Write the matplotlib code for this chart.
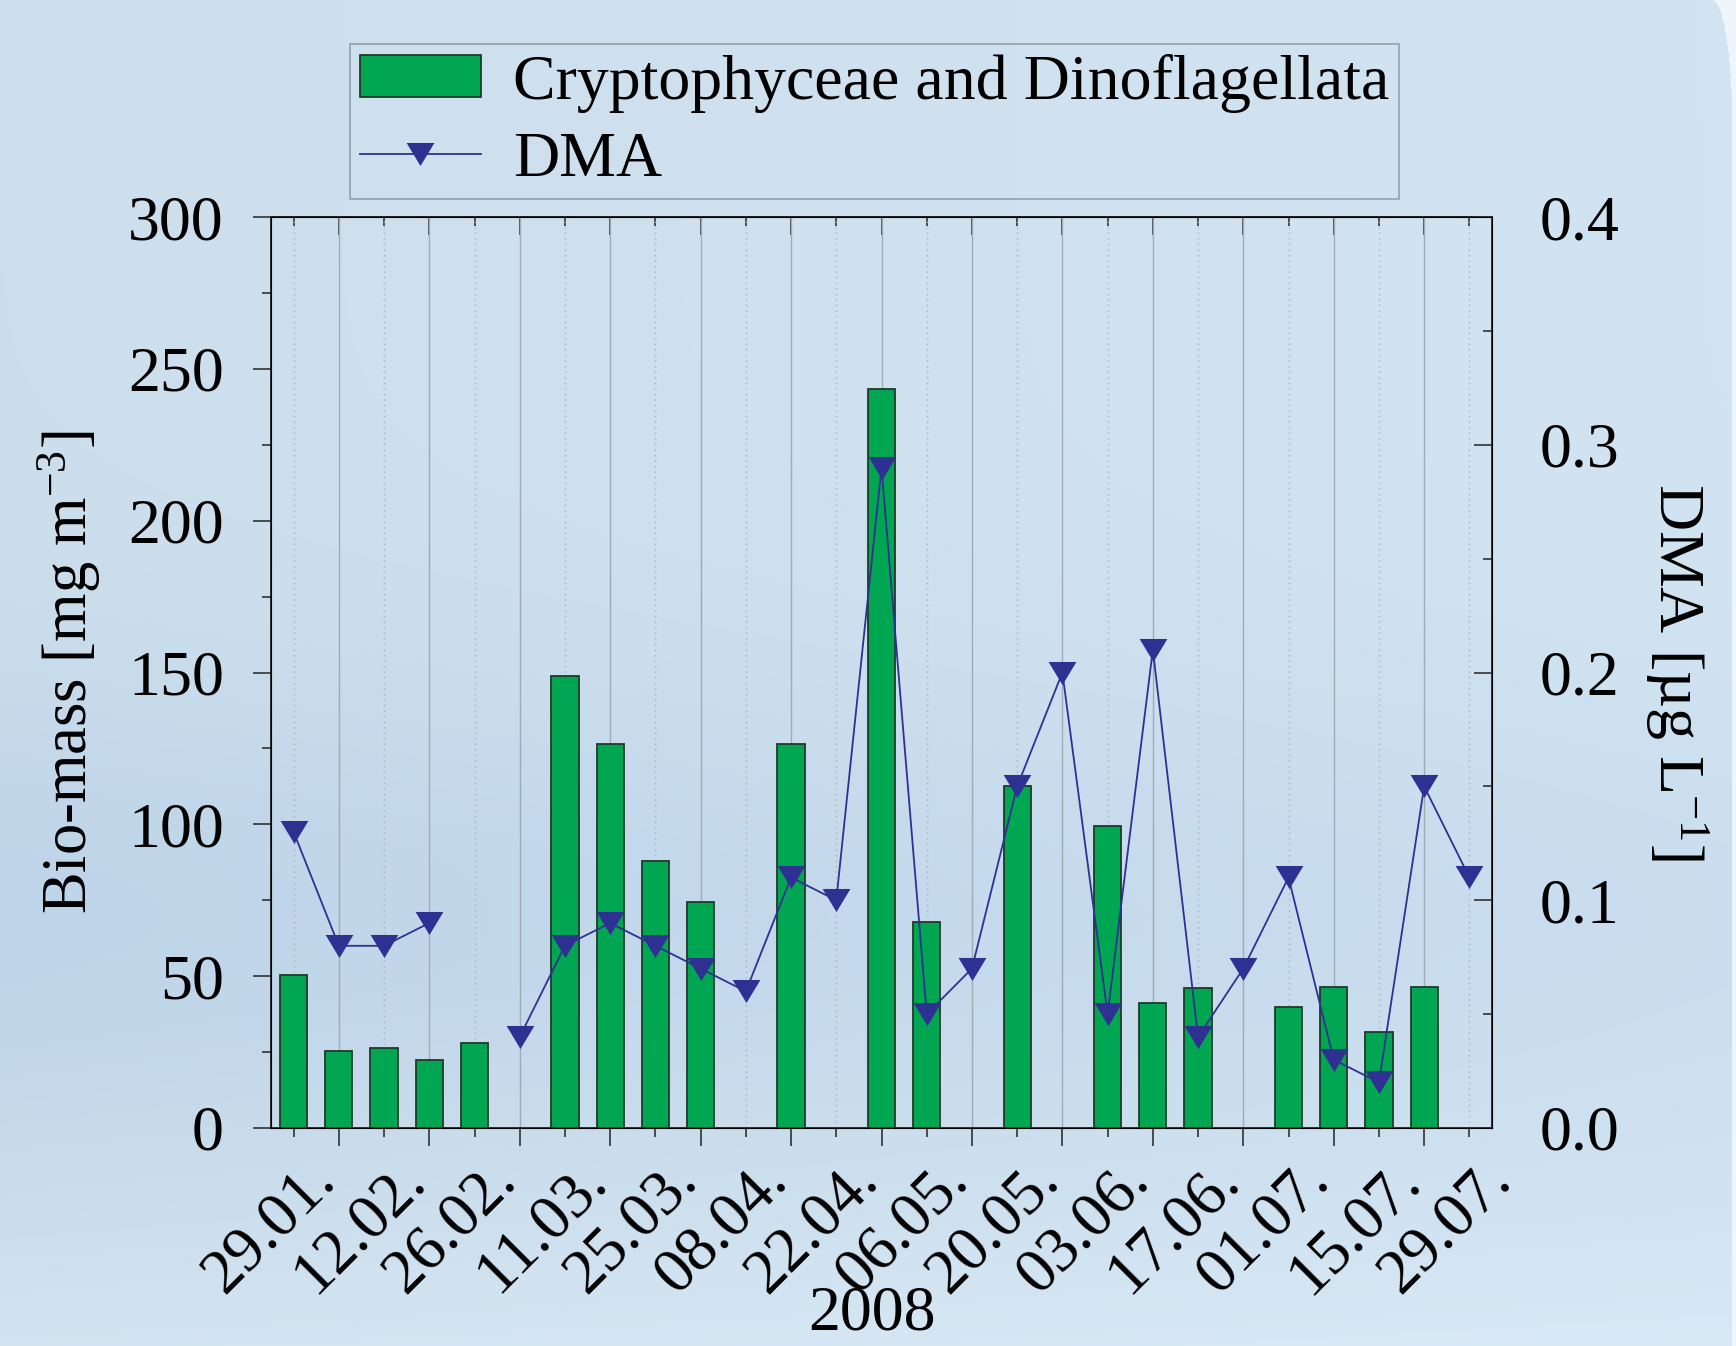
import numpy as np
import matplotlib
matplotlib.use('Agg')
import matplotlib.pyplot as plt
from matplotlib.ticker import FixedLocator, MultipleLocator, FormatStrFormatter
from matplotlib.transforms import ScaledTranslation
from matplotlib.patches import Patch
from matplotlib.lines import Line2D

plt.rcParams['font.family'] = ['Liberation Serif', 'DejaVu Serif']
plt.rcParams['mathtext.fontset'] = 'custom'
plt.rcParams['mathtext.rm'] = 'Liberation Serif'
plt.rcParams['mathtext.it'] = 'Liberation Serif:italic'

# weekly sampling dates, 2008
dates = ['29.01.', '05.02.', '12.02.', '19.02.', '26.02.', '04.03.', '11.03.',
         '18.03.', '25.03.', '01.04.', '08.04.', '15.04.', '22.04.', '29.04.',
         '06.05.', '13.05.', '20.05.', '27.05.', '03.06.', '10.06.', '17.06.',
         '24.06.', '01.07.', '08.07.', '15.07.', '22.07.', '29.07.']
nan = np.nan
# Cryptophyceae and Dinoflagellata bio-mass [mg m-3]
biomass = [50.5, 25.5, 26.5, 22.5, 28, nan, 149, 126.5, 88, 74.5, nan, 126.5,
           nan, 243.5, 68, nan, 112.5, nan, 99.5, 41, 46, nan, 40, 46.5,
           31.5, 46.5, nan]
# DMA [ug L-1]
dma = [0.13, 0.08, 0.08, 0.09, nan, 0.04, 0.08, 0.09, 0.08, 0.07, 0.06, 0.11,
       0.10, 0.29, 0.05, 0.07, 0.15, 0.20, 0.05, 0.21, 0.04, 0.07, 0.11, 0.03,
       0.02, 0.15, 0.11]

W, H = 1736, 1346
fig = plt.figure(figsize=(W / 100, H / 100), dpi=100)

# poster-like light blue background
yy, xx = np.mgrid[0:H, 0:W] / np.array([H, W])[:, None, None]
top = np.array([205, 223, 236]) / 255
mid = np.array([190, 212, 232]) / 255
bot = np.array([212, 228, 241]) / 255
wmid = np.exp(-((yy - 0.68) / 0.18) ** 2) * (1 - 0.5 * xx)
wbot = np.clip((yy - 0.8) / 0.2, 0, 1) ** 2
bg = top[None, None, :] * (1 - wmid - wbot)[..., None] \
    + mid[None, None, :] * wmid[..., None] + bot[None, None, :] * wbot[..., None]
bg = bg + (0.02 * xx)[..., None]
px = np.arange(W)[None, :]
py = np.arange(H)[:, None]
edge = 1732
rx, ry = 20, 130
outside = (px >= edge) | ((px > edge - rx) & (py < ry) &
                          (((px - (edge - rx)) / rx) ** 2 + ((py - ry) / ry) ** 2 > 1))
bg[outside] = np.array([238, 245, 251]) / 255
bg = np.clip(bg, 0, 1)
bgax = fig.add_axes([0, 0, 1, 1], zorder=-10)
bgax.imshow(bg, aspect='auto', extent=(0, 1, 0, 1))
bgax.axis('off')

ax = fig.add_axes([271 / W, 1 - 1128 / H, (1492 - 271) / W, (1128 - 217) / H])
ax.set_facecolor('none')
x = np.arange(len(dates))
bm = np.array(biomass)
ok = ~np.isnan(bm)
ax.bar(x[ok], bm[ok], width=0.6, color='#00a651', edgecolor='#1f3a2a',
       linewidth=1.3, zorder=3)
ax.set_xlim(-0.5, len(dates) - 0.5)
ax.set_ylim(0, 300)
ax.xaxis.set_major_locator(FixedLocator(x[::2]))
ax.xaxis.set_minor_locator(FixedLocator(x[1::2]))
ax.set_xticklabels(dates[::2], rotation=45, ha='right', va='top',
                   rotation_mode='anchor')
ax.yaxis.set_major_locator(MultipleLocator(50))
ax.yaxis.set_minor_locator(MultipleLocator(25))
ax.grid(axis='x', which='major', color='#a9b2ba', linestyle=(0, (1, 3)), lw=1)
ax.grid(axis='x', which='minor', color='#a2abb3', linestyle='-', lw=1)
ax.tick_params(axis='x', which='major', direction='out', length=6.5, width=1.2,
               labelsize=46, pad=0, color='#333333')
ax.tick_params(axis='x', which='minor', direction='out', length=13, width=1.2,
               color='#333333')
ax.tick_params(axis='y', which='major', direction='out', length=13, width=1.2,
               labelsize=46, pad=21, color='#333333')
ax.tick_params(axis='y', which='minor', direction='out', length=6.5, width=1.2,
               color='#333333')
for s in ax.spines.values():
    s.set_linewidth(1.3)
    s.set_color('#222222')
ax.set_ylabel('Bio-mass [mg m$^{\\mathregular{-3}}$]', fontsize=45, va='center')
ax.yaxis.set_label_coords(-0.165, 0.5)

# top axis ticks pointing inward
sec = ax.secondary_xaxis('top')
sec.xaxis.set_major_locator(FixedLocator(x[::2]))
sec.xaxis.set_minor_locator(FixedLocator(x[1::2]))
sec.tick_params(which='major', direction='in', length=6.5, width=1.2,
                labeltop=False, color='#333333')
sec.tick_params(which='minor', direction='in', length=13, width=1.2,
                color='#333333')
sec.spines['top'].set_linewidth(1.3)

# slightly flattened down-pointing triangle
tri = [(-1, 0.83), (1, 0.83), (0, -0.83), (-1, 0.83)]

ax2 = ax.twinx()
ax2.plot(x, dma, color='#2e3192', lw=1.3, marker=tri, ms=20,
         markeredgewidth=0, zorder=4)
ax2.set_ylim(0, 0.4)
ax2.yaxis.set_major_locator(MultipleLocator(0.1))
ax2.yaxis.set_minor_locator(MultipleLocator(0.05))
ax2.yaxis.set_major_formatter(FormatStrFormatter('%.1f'))
ax2.tick_params(axis='y', which='major', direction='in', length=13, width=1.2,
                labelsize=46, pad=34, color='#333333')
ax2.tick_params(axis='y', which='minor', direction='in', length=6.5, width=1.2,
                color='#333333')
ax2.set_ylabel('DMA [µg L$^{\\mathregular{-1}}$]', fontsize=46, rotation=270,
               va='center')
ax2.yaxis.set_label_coords(1.1515, 0.5)

fig.text(872 / W, 1 - 1315 / H, '2008', fontsize=46, ha='center', va='center')

handles = [Patch(facecolor='#00a651', edgecolor='#1f3a2a', linewidth=1.3),
           Line2D([], [], color='#2e3192', lw=1.3, marker=tri, ms=20,
                  markeredgewidth=0)]
leg = fig.legend(handles, ['Cryptophyceae and Dinoflagellata', 'DMA'],
                 loc='upper left', bbox_to_anchor=(350 / W, 1 - 44 / H),
                 borderaxespad=0, fontsize=46, frameon=True, fancybox=False,
                 edgecolor='#8a9096', facecolor='none', handlelength=1.9,
                 handleheight=0.65, numpoints=1, borderpad=0.15,
                 labelspacing=0.3, handletextpad=0.5)
leg.get_frame().set_linewidth(1.2)

# nudge the rotated date labels (after tick_params, which resets transforms)
shift = ScaledTranslation(0.12, -0.14, fig.dpi_scale_trans)
for lab in ax.get_xticklabels():
    lab.set_transform(lab.get_transform() + shift)

fig.savefig('out.png', dpi=100)
plt.close(fig)
